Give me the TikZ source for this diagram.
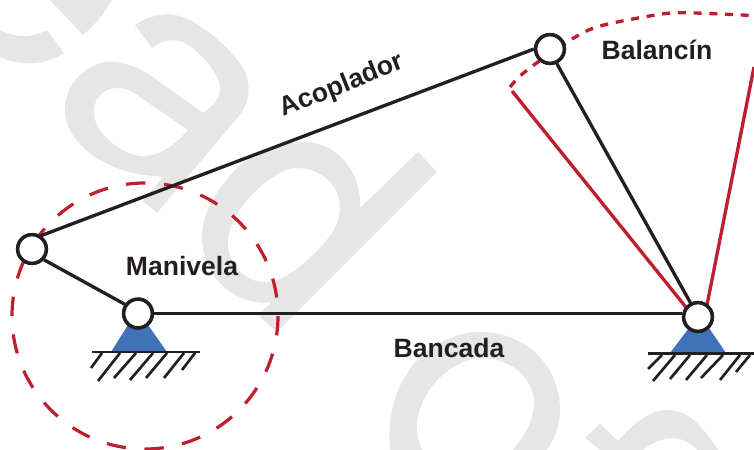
\documentclass[tikz,border=0pt]{standalone}
\usepackage{fontspec}
\setmainfont{Liberation Sans}
\definecolor{wm}{HTML}{E6E6E6}
\definecolor{ink}{HTML}{231F20}
\definecolor{crim}{HTML}{BE1E2D}
\definecolor{sup}{HTML}{3F72B8}
\tikzset{
  x=0.75pt,y=-0.75pt,
  wmark/.style={fill=wm,even odd rule},
  link/.style={draw=ink,line width=2.5pt},
  swing/.style={draw=crim,line width=2.5pt},
  dashA/.style={draw=crim,line width=2.4pt,dash pattern=on 14.5pt off 14pt},
  dashB/.style={draw=crim,line width=2.5pt,dash pattern=on 6pt off 5.8pt},
  joint/.style={circle,draw=ink,fill=white,line width=2.6pt,minimum size=21.5pt,inner sep=0pt},
  lab/.style={font=\bfseries\fontsize{19.9}{20}\selectfont,text=ink,inner sep=0pt},
  hatch/.style={draw=ink,line width=2pt},
}
\begin{document}
\begin{tikzpicture}
\useasboundingbox (0,0) rectangle (754,450);
% watermark
\fill[wmark] (0,30) .. controls (16,38) and (32,38) .. (47,30) -- (64,53) .. controls (45,66) and (20,66) .. (0,57) -- cycle;
\fill[wmark] (50,0) -- (83,35) .. controls (95,25) and (105,12) .. (112,0) -- cycle;
\fill[wmark] (135,25) .. controls (150,15) and (165,13) .. (175,15) .. controls (200,20) and (225,45) .. (240,63)
  .. controls (252,80) and (252,100) .. (238,117) -- (157,213) -- (143,201) -- (163,177) -- (145,175)
  .. controls (120,172) and (95,160) .. (83,147) .. controls (65,130) and (60,110) .. (70,88)
  .. controls (80,70) and (100,60) .. (112,62) .. controls (130,62) and (145,72) .. (153,77) -- (203,113)
  .. controls (215,105) and (222,95) .. (220,88) .. controls (220,75) and (205,58) .. (190,46)
  .. controls (178,38) and (165,38) .. (152,48) -- cycle
  (188,130) .. controls (175,145) and (160,156) .. (143,156) .. controls (125,156) and (105,140) .. (97,125)
  .. controls (88,105) and (100,88) .. (117,88) .. controls (128,88) and (135,93) .. (140,97) -- cycle;
\fill[wmark] (305,142) .. controls (335,142) and (362,170) .. (360,208) -- (418,152) -- (437,172) -- (277,332) -- (258,315) -- (272,302)
  .. controls (265,303) and (262,303) .. (257,302) .. controls (225,298) and (202,270) .. (202,237)
  .. controls (202,210) and (220,185) .. (240,165) .. controls (260,150) and (285,142) .. (305,142) -- cycle
  (297,168) .. controls (320,168) and (340,185) .. (340,207) .. controls (340,225) and (330,237) .. (318,250)
  .. controls (300,268) and (282,282) .. (265,282) .. controls (245,282) and (228,265) .. (228,243)
  .. controls (228,222) and (245,200) .. (260,187) .. controls (270,178) and (285,168) .. (297,168) -- cycle;
\fill[wmark] (390,450) .. controls (388,425) and (390,395) .. (413,365) .. controls (430,345) and (455,332) .. (480,332)
  .. controls (525,332) and (560,365) .. (560,410) .. controls (560,425) and (555,438) .. (547,450) -- (513,450)
  .. controls (525,435) and (534,420) .. (534,403) .. controls (534,378) and (510,358) .. (482,358)
  .. controls (450,358) and (415,395) .. (417,430) .. controls (417,437) and (420,445) .. (422,450) -- cycle;
\fill[wmark] (600,424) -- (618,441) .. controls (635,422) and (650,410) .. (668,410) .. controls (690,410) and (705,430) .. (718,450)
  -- (697,450) .. controls (690,442) and (680,438) .. (673,438) .. controls (663,438) and (652,443) .. (643,450) -- (600,450) -- (585,438) -- cycle;
% supports
\fill[sup] (111,352) -- (128,325) -- (148,325) -- (167,352) -- cycle;
\fill[sup] (670,353) -- (689,328) -- (709,328) -- (726,353) -- cycle;
% swept paths
\draw[dashA] (145,316) ++(180:133) arc[start angle=180,end angle=540,radius=133];
\draw[dashB] plot[smooth] coordinates {(510,87) (520,76) (538,62) (572,39) (600,26) (662,14) (694,13) (752,15.5)};
% joints
\node[joint] (O) at (138,313.5) {};
\node[joint] (A) at (32,249) {};
\node[joint] (C) at (550,49) {};
\node[joint] (D) at (698,317) {};
\coordinate (Rl) at (512,91);
\coordinate (Rr) at (754,67);
\coordinate (Dl) at (689,311);
\coordinate (Dr) at (707,305);
\draw[swing] (Dl) -- (Rl);
\draw[swing] (Dr) -- (Rr);
\draw[link] (A.56) -- (C.180);
\draw[link] (A.-42) -- (O.145);
\draw[link] (O.east) -- (O -| D.west);
\draw[link] (C.-65) -- (D.118);
\node[joint] at (O) {};\node[joint] at (A) {};\node[joint] at (C) {};\node[joint] at (D) {};
% ground
\draw[hatch] (92,352) -- (200,352);
\draw[hatch] (648,353.5) -- (754,353.5);
\foreach \a/\b/\c/\d in {102/353/91/368,120/353/98/381,136/353/114/378,153/353/130/380,167/353/146/378,184/353/164/378,195/353/182/370}{\draw[hatch] (\a,\b) -- (\c,\d);}
\foreach \a/\b/\c/\d in {662/355/648/369,675/355/653/381,690/355/670/379,707/355/686/380,723/355/701/378,740/355/720/380,750/355/736/372}{\draw[hatch] (\a,\b) -- (\c,\d);}
% labels
\node[lab,rotate=21.7] (t1) at (342,86) {Acoplador};
\node[lab] (t2) at (657,50) {Balancín};
\node[lab] (t3) at (182,266) {Manivela};
\node[lab] (t4) at (449,348) {Bancada};
\end{tikzpicture}
\end{document}
